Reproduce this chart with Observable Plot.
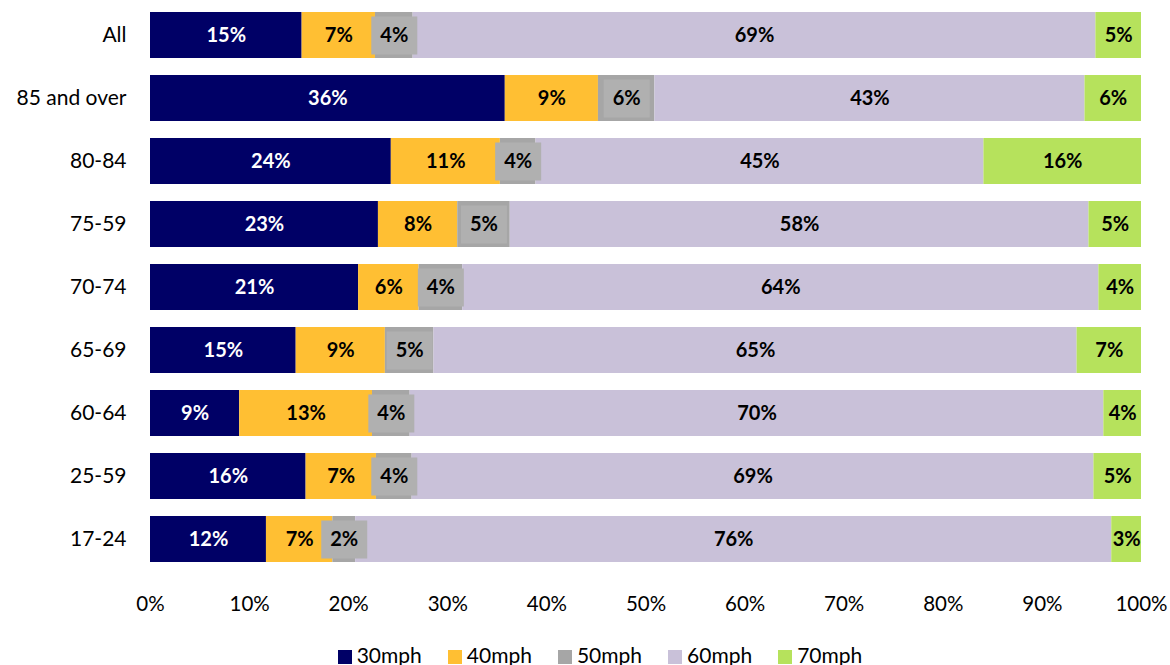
<!DOCTYPE html>
<html><head><meta charset="utf-8">
<script src="https://cdn.jsdelivr.net/npm/d3@7"></script>
<script src="https://cdn.jsdelivr.net/npm/@observablehq/plot@0.6"></script>
<style>
body{margin:0;background:#fff;font-family:Lato,"Open Sans",sans-serif;}
#legend{display:flex;justify-content:center;gap:26px;font-size:21px;line-height:24px;color:#000;margin-top:23px;padding-left:30px;}
#legend .item{display:flex;align-items:center;gap:5px;}
#legend .sw{width:14px;height:14px;display:inline-block;margin-top:3px;}
</style></head><body><div id="chart"></div><div id="legend"></div>
<script>
const categories = ["All","85 and over","80-84","75-59","70-74","65-69","60-64","25-59","17-24"];
const series = ["30mph","40mph","50mph","60mph","70mph"];
const colors = ["#000066","#ffbf33","#a6a6a6","#c9c1d9","#b6e25c"];
const v30 = [15.3,35.8,24.3,23.0,21.0,14.7,9.0,15.7,11.7];
const v40 = [7.4,9.4,11.0,8.0,6.1,9.0,13.4,7.1,6.7];
const v50 = [3.8,5.7,3.6,5.3,4.4,4.9,3.8,3.6,2.3];
const v60 = [68.9,43.4,45.2,58.4,64.2,64.9,70.0,68.8,76.3];
const v70 = [4.6,5.7,15.9,5.3,4.3,6.5,3.8,4.8,3.0];
const xTicks = [0,10,20,30,40,50,60,70,80,90,100];

const values = [v30,v40,v50,v60,v70];
const rows = [];
categories.forEach((cat,i)=>{
  let acc = 0;
  series.forEach((s,j)=>{
    const v = values[j][i];
    rows.push({cat, series:s, value:v, x1:acc, x2:acc+v, mid:acc+v/2, label:Math.round(v)+"%"});
    acc += v;
  });
});

const boxSymbol = {draw(ctx){ ctx.rect(-23,-19,46,38); }};

const plot = Plot.plot({
  width:1170, height:620,
  marginLeft:150, marginRight:29, marginTop:2, marginBottom:48.2,
  x:{domain:[0,100], label:null},
  y:{domain:categories, paddingInner:0.273, paddingOuter:0.1365, label:null},
  color:{domain:series, range:colors},
  style:{fontFamily:"Lato, 'Open Sans', sans-serif", fontSize:"20px", color:"#000", background:"#fff"},
  marks:[
    Plot.barX(rows,{x1:"x1",x2:"x2",y:"cat",fill:"series"}),
    Plot.dot(rows.filter(d=>d.series==="50mph"),{x:"mid",y:"cat",symbol:boxSymbol,fill:"#b0b0b0",stroke:"none"}),
    Plot.text(rows,{x:"mid",y:"cat",text:"label",fill:d=>d.series==="30mph"?"#fff":"#000",fontWeight:"bold",fontSize:20}),
    Plot.axisX({ticks:xTicks, tickSize:0, tickPadding:24, tickFormat:d=>d+"%", fontSize:20.5, label:null}),
    Plot.axisY({tickSize:0, tickPadding:24, fontSize:21, label:null})
  ]
});
document.getElementById("chart").append(plot);

const legend = document.getElementById("legend");
series.forEach((s,j)=>{
  const it = document.createElement("div"); it.className="item";
  const sw = document.createElement("span"); sw.className="sw"; sw.style.background=colors[j];
  const t = document.createElement("span"); t.textContent = s;
  it.append(sw,t); legend.append(it);
});
</script></body></html>
